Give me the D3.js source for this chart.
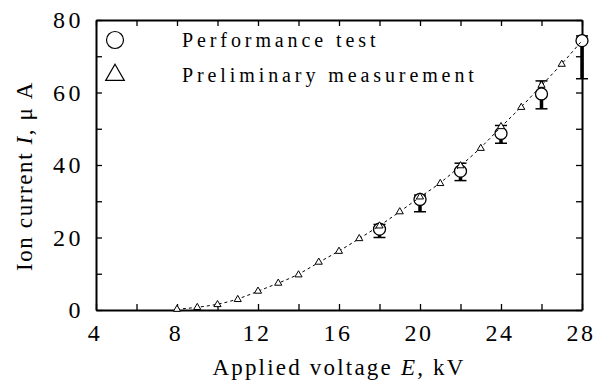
<!DOCTYPE html>
<html>
<head>
<meta charset="utf-8">
<script src="https://cdn.jsdelivr.net/npm/d3@7"></script>
<style>
  body { margin: 0; background: #fff; }
  svg { display: block; font-family: "Liberation Serif", "DejaVu Serif", serif; }
</style>
</head>
<body>
<div id="chart"></div>
<script>
// preliminary measurement (triangles)
var prelimE = [8, 9, 10, 11, 12, 13, 14, 15, 16, 17, 18, 19, 20, 21, 22, 23, 24, 25, 26, 27];
var prelimI = [0.2, 0.7, 1.5, 2.9, 5.2, 7.4, 9.7, 13.2, 16.2, 19.7, 23.2, 27.1, 31.2, 34.9, 39.8, 44.6, 50.6, 55.9, 62.0, 67.8];

// performance test (circles with error bars)
var perfE = [18, 20, 22, 24, 26, 28];
var perfI = [22.3, 30.5, 38.3, 48.7, 59.6, 74.3];
var perfLow = [20.0, 27.1, 35.7, 46.0, 55.5, 63.8];
var perfHigh = [23.6, 31.7, 40.5, 50.9, 63.2, 75.6];

var xTicks = [4, 6, 8, 10, 12, 14, 16, 18, 20, 22, 24, 26, 28];
var yTicks = [0, 10, 20, 30, 40, 50, 60, 70, 80];

var width = 596, height = 381;
var margin = {top: 20, right: 14, bottom: 71, left: 96};
var w = width - margin.left - margin.right;
var h = height - margin.top - margin.bottom;

var svg = d3.select('#chart').append('svg')
  .attr('width', width)
  .attr('height', height);

var g = svg.append('g')
  .attr('transform', 'translate(' + margin.left + ',' + margin.top + ')');

var x = d3.scaleLinear().domain([4, 28]).range([0, w]);
var y = d3.scaleLinear().domain([0, 80]).range([h, 0]);

// axes, ticks pointing inward
var xLab = function(d) { return d % 4 === 0 ? d : ''; };
var yLab = function(d) { return d % 20 === 0 ? d : ''; };

var ax = g.append('g').attr('transform', 'translate(0,' + h + ')')
  .call(d3.axisBottom(x).tickValues(xTicks).tickFormat(xLab).tickSize(-6).tickPadding(14).tickSizeOuter(0));
g.append('g')
  .call(d3.axisTop(x).tickValues(xTicks).tickFormat('').tickSize(-6).tickSizeOuter(0));
var ay = g.append('g')
  .call(d3.axisLeft(y).tickValues(yTicks).tickFormat(yLab).tickSize(-6).tickPadding(12).tickSizeOuter(0));
g.append('g').attr('transform', 'translate(' + w + ',0)')
  .call(d3.axisRight(y).tickValues(yTicks).tickFormat('').tickSize(-6).tickSizeOuter(0));

g.selectAll('.domain').attr('stroke', '#000').attr('stroke-width', 2);
g.selectAll('.tick line').attr('stroke', '#000').attr('stroke-width', 1.3);
g.selectAll('.tick text')
  .attr('font-family', '"Liberation Serif", serif')
  .attr('font-size', 24)
  .attr('fill', '#000')
  .attr('letter-spacing', '3.5px');
ax.selectAll('.tick text').attr('letter-spacing', '2.6px').attr('dx', '-1.5px');

// error bars
var perf = perfE.map(function(e, i) {
  return {e: e, v: perfI[i], lo: perfLow[i], hi: perfHigh[i]};
});

var eb = g.append('g');
eb.selectAll('line.stem').data(perf).enter().append('line')
  .attr('class', 'stem')
  .attr('x1', function(d) { return x(d.e); })
  .attr('x2', function(d) { return x(d.e); })
  .attr('y1', function(d) { return y(d.lo); })
  .attr('y2', function(d) { return y(d.hi); })
  .attr('stroke', '#000').attr('stroke-width', 3.5);
['lo', 'hi'].forEach(function(k) {
  eb.selectAll('line.cap-' + k).data(perf).enter().append('line')
    .attr('class', 'cap-' + k)
    .attr('x1', function(d) { return x(d.e) - 6; })
    .attr('x2', function(d) { return x(d.e) + 6; })
    .attr('y1', function(d) { return y(d[k]); })
    .attr('y2', function(d) { return y(d[k]); })
    .attr('stroke', '#000').attr('stroke-width', 1.5);
});

// circles
g.selectAll('circle.perf').data(perf).enter().append('circle')
  .attr('class', 'perf')
  .attr('cx', function(d) { return x(d.e); })
  .attr('cy', function(d) { return y(d.v); })
  .attr('r', 6)
  .attr('fill', '#fff').attr('stroke', '#000').attr('stroke-width', 1.3);

// dashed trend line through measurements
var prelim = prelimE.map(function(e, i) { return {e: e, v: prelimI[i]}; });
var trend = prelim.concat([{e: perfE[perfE.length - 1], v: perfI[perfI.length - 1]}]);
var line = d3.line()
  .x(function(d) { return x(d.e); })
  .y(function(d) { return y(d.v); })
  .curve(d3.curveBasis);
g.append('path').datum(trend)
  .attr('d', line)
  .attr('fill', 'none').attr('stroke', '#000').attr('stroke-width', 1)
  .attr('stroke-dasharray', '3,3');

// triangles
var tri = d3.symbol().type(d3.symbolTriangle).size(22);
g.selectAll('path.prelim').data(prelim).enter().append('path')
  .attr('class', 'prelim')
  .attr('d', tri)
  .attr('transform', function(d) { return 'translate(' + x(d.e) + ',' + y(d.v) + ')'; })
  .attr('fill', '#fff').attr('stroke', '#000').attr('stroke-width', 1);

// legend
var lg = svg.append('g').attr('font-size', 20).attr('letter-spacing', '3.9px');
lg.append('circle').attr('cx', 115).attr('cy', 40).attr('r', 8.5)
  .attr('fill', '#fff').attr('stroke', '#000').attr('stroke-width', 1.2);
lg.append('path')
  .attr('d', d3.symbol().type(d3.symbolTriangle).size(150))
  .attr('transform', 'translate(115,75)')
  .attr('fill', '#fff').attr('stroke', '#000').attr('stroke-width', 1.2);
lg.append('text').attr('x', 182).attr('y', 47).text('Performance test');
lg.append('text').attr('x', 182).attr('y', 82).text('Preliminary measurement');

// axis titles
var xt = svg.append('text')
  .attr('x', margin.left + w / 2).attr('y', 375)
  .attr('text-anchor', 'middle').attr('font-size', 23).attr('letter-spacing', '2.2px');
xt.append('tspan').text('Applied voltage ');
xt.append('tspan').attr('font-style', 'italic').text('E');
xt.append('tspan').text(', kV');

var yt = svg.append('text')
  .attr('transform', 'translate(32,176) rotate(-90)')
  .attr('text-anchor', 'middle').attr('font-size', 23).attr('letter-spacing', '1.6px');
yt.append('tspan').text('Ion current ');
yt.append('tspan').attr('font-style', 'italic').text('I');
yt.append('tspan').text(', \u03bc A');
</script>
</body>
</html>
